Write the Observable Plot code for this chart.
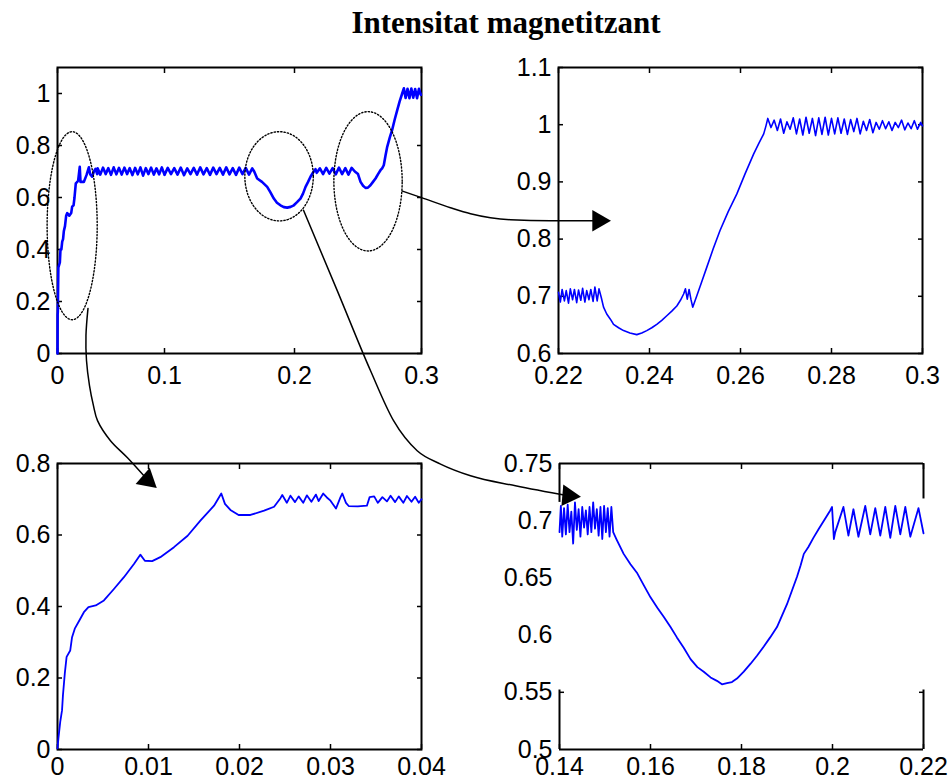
<!DOCTYPE html>
<html>
<head>
<meta charset="utf-8">
<script src="https://cdn.jsdelivr.net/npm/d3@7"></script>
<script src="https://cdn.jsdelivr.net/npm/@observablehq/plot@0.6"></script>
<style>
  body { margin: 0; background: #fff; }
  #wrap { position: relative; width: 948px; height: 784px; overflow: hidden; background: #fff; }
  #wrap svg { position: absolute; left: 0; top: 0; }
  #title { position: absolute; left: 506px; top: 7px; transform: translateX(-50%); white-space: nowrap;
           font: bold 31px "Liberation Serif", "Times New Roman", serif; line-height: 1; color: #000; }
</style>
</head>
<body>
<div id="wrap"><div id="title">Intensitat magnetitzant</div></div>
<script>
// ---------------- data ----------------
const titleText = "Intensitat magnetitzant";

// top-left: whole transient 0 .. 0.3 s
const tlXTicks = [0, 0.1, 0.2, 0.3];
const tlYTicks = [0, 0.2, 0.4, 0.6, 0.8, 1];
const tlTime = [
  0,0.0001,0.0003,0.0008,0.0022,0.0028,0.0036,0.0044,0.0052,0.0059,0.0070,0.0081,0.0091,0.0110,0.0128,0.0137,0.0150,0.0159,0.0171,0.0185,0.0193,0.0203,0.0208,0.0215,0.0246,0.0271,0.0293,0.0305,0.0324,0.0340,0.0355,0.0371,
  0.0375,0.04,0.0425,0.045,0.0475,0.05,0.0525,0.055,0.0575,0.06,
  0.0625,0.065,0.0675,0.07,0.0725,0.075,0.0775,0.08,0.0825,0.085,
  0.0875,0.09,0.0925,0.095,0.0975,0.1,0.1025,0.105,0.1075,0.11,
  0.1125,0.115,0.1175,0.12,0.1225,0.125,0.1275,0.13,0.1325,0.135,
  0.1375,0.14,0.1425,0.145,0.1475,0.15,0.1525,0.155,0.1575,0.16,
  0.1625,0.165,0.1675,
  0.1690,0.1713,0.1750,0.1790,0.1815,0.1841,0.1865,0.1892,0.1918,0.1944,0.1970,0.1995,0.2020,0.2047,0.2067,0.2087,0.2107,0.2126,0.2145,0.2165,
  0.2175,0.22,0.2225,0.225,0.2275,0.23,0.2325,0.235,0.2375,0.24,0.2425,0.245,0.2475,
  0.2500,0.2520,0.2540,0.2559,0.2578,0.2598,0.2618,0.2638,0.2658,0.2677,0.2690,0.2703,0.2716,0.2730,0.2750,0.2769,0.2789,0.2809,0.2828,0.2848,0.2861,
  0.2875,0.289,0.2905,0.292,0.2935,0.295,0.2965,0.298,0.2995
];
const tlValue = [
  0,0.15,0.16,0.33,0.35,0.40,0.40,0.43,0.44,0.47,0.49,0.53,0.54,0.53,0.54,0.565,0.57,0.60,0.654,0.66,0.665,0.70,0.718,0.66,0.66,0.686,0.716,0.69,0.68,0.70,0.71,0.69,
  0.712,0.688,0.715,0.690,0.713,0.687,0.716,0.689,0.714,0.688,
  0.715,0.690,0.713,0.686,0.714,0.689,0.716,0.684,0.713,0.690,
  0.715,0.688,0.712,0.689,0.716,0.687,0.714,0.690,0.713,0.688,
  0.715,0.686,0.712,0.690,0.714,0.688,0.716,0.689,0.713,0.687,
  0.715,0.690,0.714,0.688,0.716,0.689,0.713,0.687,0.715,0.690,
  0.714,0.688,0.712,
  0.700,0.673,0.660,0.641,0.620,0.596,0.580,0.570,0.563,0.561,0.564,0.570,0.582,0.596,0.615,0.641,0.660,0.680,0.695,0.709,
  0.695,0.712,0.690,0.714,0.692,0.713,0.689,0.715,0.690,0.713,0.688,0.714,0.700,
  0.690,0.660,0.645,0.637,0.638,0.647,0.660,0.673,0.690,0.705,0.712,0.724,0.760,0.795,0.830,0.860,0.900,0.936,0.970,1.000,1.020,
  0.983,1.018,0.982,1.019,0.984,1.017,0.982,1.018,0.995
];

// top-right: zoom 0.22 .. 0.3 s
const trXTicks = [0.22, 0.24, 0.26, 0.28, 0.3];
const trYTicks = [0.6, 0.7, 0.8, 0.9, 1, 1.1];
const trTime = [
  0.2200,0.2204,0.2208,0.2213,0.2217,0.2222,0.2226,0.2231,0.2235,0.2240,0.2244,0.2249,0.2253,0.2258,0.2262,0.2267,0.2271,0.2276,0.2280,0.2285,0.2289,0.2294,
  0.2299,0.2306,0.2314,0.2321,0.2332,0.2343,0.2357,0.2372,0.2383,0.2394,
  0.2405,0.2416,0.2427,0.2438,0.2449,0.2460,0.2468,0.2475,0.2479,0.2483,
  0.2487,0.2491,0.2495,0.2504,0.2515,0.2526,0.2540,0.2555,0.2573,0.2592,
  0.2610,0.2629,0.2640,0.2651,0.2656,0.2660,
  0.2667,0.2674,0.2681,0.2688,0.2695,0.2702,0.2709,0.2716,0.2723,0.2730,0.2737,0.2744,0.2751,0.2758,0.2765,0.2772,0.2779,0.2786,0.2793,0.2800,
  0.2807,0.2814,0.2821,0.2828,0.2835,0.2842,0.2849,0.2856,0.2863,0.2870,0.2877,0.2884,0.2891,0.2898,0.2905,0.2912,0.2919,0.2926,0.2933,0.2940,
  0.2947,0.2954,0.2961,0.2968,0.2975,0.2982,0.2989,0.2996,0.3000
];
const trValue = [
  0.707,0.690,0.712,0.692,0.710,0.688,0.713,0.694,0.712,0.689,0.711,0.693,0.714,0.690,0.710,0.694,0.712,0.691,0.716,0.692,0.713,0.698,
  0.681,0.669,0.660,0.651,0.645,0.640,0.636,0.633,0.636,0.640,
  0.645,0.651,0.658,0.666,0.674,0.683,0.693,0.704,0.713,0.695,
  0.712,0.695,0.681,0.701,0.726,0.751,0.783,0.815,0.848,0.879,
  0.914,0.949,0.967,0.984,0.998,1.011,
  0.995,1.008,0.990,1.010,0.985,1.005,0.992,1.012,0.984,1.010,0.982,1.013,0.985,1.011,0.981,1.012,0.983,1.013,0.982,1.011,
  0.984,1.012,0.985,1.010,0.983,1.009,0.988,1.011,0.984,1.006,0.990,1.009,0.986,1.004,0.992,1.007,0.993,1.005,0.990,1.004,
  0.995,1.008,0.991,1.003,0.993,1.007,0.992,1.004,0.998
];

// bottom-left: zoom 0 .. 0.04 s
const blXTicks = [0, 0.01, 0.02, 0.03, 0.04];
const blYTicks = [0, 0.2, 0.4, 0.6, 0.8];
const blTime = [
  0,0.0001,0.0003,0.0005,0.0006,0.0008,0.001,0.0014,0.0016,0.0019,
  0.0024,0.0029,0.0034,0.0042,0.0051,0.0062,0.0073,0.0084,0.0091,0.0096,
  0.0104,0.0113,0.0128,0.0143,0.0157,0.0172,0.018,0.0184,0.019,0.0199,
  0.0212,0.0227,0.0238,0.0245,
  0.0247,0.0252,0.0256,0.0261,0.0265,0.027,0.0274,0.0279,0.0284,0.0287,
  0.0292,0.0296,0.0300,0.0306,0.0311,0.0313,0.0317,0.0320,0.0330,0.0340,
  0.0343,0.0348,0.0352,0.0357,0.0362,0.0366,0.0371,0.0375,0.0380,0.0384,
  0.0389,0.0393,0.0397,0.0400
];
const blValue = [
  0.003,0.031,0.077,0.11,0.152,0.212,0.259,0.277,0.314,0.338,
  0.361,0.384,0.398,0.403,0.417,0.449,0.482,0.519,0.545,0.528,
  0.527,0.538,0.566,0.598,0.640,0.682,0.716,0.687,0.670,0.656,
  0.656,0.668,0.679,0.703,
  0.712,0.690,0.710,0.692,0.708,0.690,0.711,0.693,0.713,0.695,
  0.716,0.705,0.696,0.674,0.706,0.716,0.690,0.681,0.680,0.682,
  0.706,0.708,0.690,0.706,0.694,0.710,0.692,0.708,0.690,0.709,
  0.693,0.707,0.690,0.700
];

// bottom-right: zoom 0.14 .. 0.22 s
const brXTicks = [0.14, 0.16, 0.18, 0.2, 0.22];
const brYTicks = [0.5, 0.55, 0.6, 0.65, 0.7, 0.75];
const brTime = [
  0.1400,0.1403,0.1406,0.1410,0.1414,0.1418,0.1422,0.1426,0.1430,0.1434,
  0.1438,0.1442,0.1446,0.1450,0.1454,0.1458,0.1462,0.1466,0.1470,0.1474,
  0.1478,0.1482,0.1486,0.1490,0.1494,0.1498,0.1502,0.1506,0.1510,0.1514,
  0.1518,
  0.1525,0.1541,0.1556,0.1571,0.1586,0.1600,0.1615,0.1629,0.1644,0.1658,
  0.1673,0.1688,0.1703,0.1717,0.1732,0.1746,0.1757,0.1768,0.1779,0.1790,
  0.1805,0.1820,0.1834,0.1849,0.1863,0.1878,0.1889,0.1900,0.1911,0.1922,
  0.1930,0.1937,0.1947,0.1958,0.1970,0.1981,0.1995,0.1999,0.2003,0.2006,
  0.2024,0.2035,0.2046,0.2057,0.2072,0.2083,0.2094,0.2105,0.2116,0.2127,
  0.2138,0.2149,0.2160,0.2171,0.2189,0.2200
];
const brValue = [
  0.690,0.713,0.686,0.711,0.688,0.714,0.690,0.708,0.680,0.716,
  0.692,0.710,0.686,0.712,0.694,0.709,0.688,0.712,0.690,0.716,
  0.693,0.710,0.687,0.712,0.684,0.713,0.690,0.711,0.686,0.712,
  0.690,
  0.684,0.671,0.662,0.654,0.643,0.633,0.624,0.616,0.607,0.598,
  0.589,0.579,0.572,0.568,0.563,0.560,0.557,0.558,0.559,0.562,
  0.568,0.575,0.582,0.590,0.598,0.607,0.617,0.627,0.639,0.651,
  0.661,0.671,0.677,0.685,0.693,0.700,0.709,0.712,0.684,0.690,
  0.712,0.687,0.710,0.686,0.713,0.688,0.711,0.687,0.712,0.685,
  0.713,0.688,0.712,0.686,0.711,0.689
];

// annotations, in the data units of the top-left panel
const ellipseCenterT = [0.0137, 0.1883, 0.2579];
const ellipseCenterV = [0.4915, 0.6816, 0.6623];
const ellipseRadiusT = [0.0234, 0.0265, 0.0269];
const ellipseRadiusV = [0.3616, 0.1716, 0.2679];

const arrowToTopRightT = [0.2850, 0.3000, 0.3228, 0.3386, 0.3543, 0.3701, 0.4016, 0.4394];
const arrowToTopRightV = [0.6245, 0.5995, 0.5609, 0.5378, 0.5224, 0.5146, 0.5108, 0.5108];
const arrowToBottomRightT = [0.2071, 0.2339, 0.2598, 0.2780, 0.2966, 0.3150, 0.3386, 0.3740, 0.4157];
const arrowToBottomRightV = [0.5509, 0.2390, -0.0655, -0.2583, -0.3739, -0.4252, -0.4703, -0.5089, -0.5474];
const arrowToBottomLeftT = [0.0285, 0.0266, 0.0271, 0.0299, 0.0336, 0.0374, 0.0495, 0.0654, 0.0841];
const arrowToBottomLeftV = [0.1735, 0.0694, -0.0270, -0.1234, -0.2005, -0.2583, -0.3354, -0.4009, -0.4857];
const headT = [0.4394, 0.4158, 0.0840];
const headV = [0.5108, -0.5470, -0.4861];
const headAngle = [90, 95, 131];

// ---------------- drawing ----------------
const rows = (ts, vs) => ts.map((t, i) => ({t, v: vs[i]}));
const BLUE = "#0000ff";
const style = {fontFamily: '"Liberation Sans", Arial, Helvetica, sans-serif', fontSize: "25px",
               background: "transparent", overflow: "visible", color: "black"};
const fmt = d => String(d);

function boxAxes({xTicks, yTicks, xPad, yPad = 7, xMarks = xTicks, yMarks = yTicks}) {
  const tk = {tickFormat: () => "", label: null, strokeWidth: 1.5, tickSize: 5};
  return [
    Plot.axisX(xTicks, {anchor: "bottom", tickSize: 0, tickPadding: xPad, tickFormat: fmt, label: null}),
    Plot.axisY(yTicks, {anchor: "left", tickSize: 0, tickPadding: yPad, tickFormat: fmt, label: null}),
    Plot.axisX(xMarks, {anchor: "bottom", dy: -5, ...tk}),
    Plot.axisX(xMarks, {anchor: "top", dy: 5, ...tk}),
    Plot.axisY(yMarks, {anchor: "left", dx: 5, ...tk}),
    Plot.axisY(yMarks, {anchor: "right", dx: -5, ...tk})
  ];
}

const W = 948, H = 784;

// bottom-right
const br = Plot.plot({
  width: W, height: H, marginLeft: 559, marginRight: 25, marginTop: 463, marginBottom: 35,
  x: {domain: [0.14, 0.22]}, y: {domain: [0.5, 0.75]}, style,
  marks: [
    Plot.ruleY([0.5, 0.75], {stroke: "black", strokeWidth: 2}),
    Plot.ruleX([
      {x: 0.14, y1: 0.5, y2: 0.552}, {x: 0.14, y1: 0.716, y2: 0.75},
      {x: 0.22, y1: 0.5, y2: 0.552}, {x: 0.22, y1: 0.719, y2: 0.75}
    ], {x: "x", y1: "y1", y2: "y2", stroke: "black", strokeWidth: 2}),
    ...boxAxes({xTicks: brXTicks, yTicks: brYTicks, xPad: 8, xMarks: brXTicks, yMarks: [0.55]}),
    Plot.line(rows(brTime, brValue), {x: "t", y: "v", stroke: BLUE, strokeWidth: 1.8})
  ]
});

// bottom-left
const bl = Plot.plot({
  width: W, height: H, marginLeft: 57, marginRight: 527, marginTop: 463, marginBottom: 35,
  x: {domain: [0, 0.04]}, y: {domain: [0, 0.8]}, style,
  marks: [
    Plot.frame({stroke: "black", strokeWidth: 2}),
    ...boxAxes({xTicks: blXTicks, yTicks: blYTicks, xPad: 8}),
    Plot.line(rows(blTime, blValue), {x: "t", y: "v", stroke: BLUE, strokeWidth: 1.8})
  ]
});

// top-right
const tr = Plot.plot({
  width: W, height: H, marginLeft: 558, marginRight: 26, marginTop: 67, marginBottom: 431,
  x: {domain: [0.22, 0.3]}, y: {domain: [0.6, 1.1]}, style,
  marks: [
    Plot.frame({stroke: "black", strokeWidth: 2}),
    ...boxAxes({xTicks: trXTicks, yTicks: trYTicks, xPad: 13}),
    Plot.line(rows(trTime, trValue), {x: "t", y: "v", stroke: BLUE, strokeWidth: 1.6})
  ]
});

// top-left with the annotations (ellipses and arrows) drawn on its scales
const ellipses = [];
ellipseCenterT.forEach((cx, k) => {
  for (let i = 0; i <= 120; i++) {
    const a = (i / 120) * 2 * Math.PI;
    ellipses.push({id: k, t: cx + ellipseRadiusT[k] * Math.cos(a), v: ellipseCenterV[k] + ellipseRadiusV[k] * Math.sin(a)});
  }
});
const heads = headT.map((t, i) => ({t, v: headV[i], a: headAngle[i]}));

const tl = Plot.plot({
  width: W, height: H, marginLeft: 57, marginRight: 527, marginTop: 67, marginBottom: 431,
  x: {type: "linear", domain: tlXTicks, range: [57, 164, 294, 421]},
  y: {domain: [0, 1.1]}, style,
  marks: [
    Plot.frame({stroke: "black", strokeWidth: 2}),
    ...boxAxes({xTicks: tlXTicks, yTicks: tlYTicks, xPad: 13}),
    Plot.line(rows(tlTime, tlValue), {x: "t", y: "v", stroke: BLUE, strokeWidth: 2.6}),
    Plot.line(ellipses, {x: "t", y: "v", z: "id", stroke: "black", strokeWidth: 1.4, strokeDasharray: "1.3 2"}),
    Plot.line(rows(arrowToTopRightT, arrowToTopRightV), {x: "t", y: "v", stroke: "black", strokeWidth: 1.5, curve: "monotone-x"}),
    Plot.line(rows(arrowToBottomRightT, arrowToBottomRightV), {x: "t", y: "v", stroke: "black", strokeWidth: 1.5, curve: "monotone-x"}),
    Plot.line(rows(arrowToBottomLeftT, arrowToBottomLeftV), {x: "t", y: "v", stroke: "black", strokeWidth: 1.5, curve: "catmull-rom"}),
    Plot.dot(heads, {x: "t", y: "v", rotate: "a", symbol: "triangle", r: 8, fill: "black", stroke: "none"})
  ]
});

const wrap = document.getElementById("wrap");
wrap.append(br, bl, tr, tl);
</script>
</body>
</html>
